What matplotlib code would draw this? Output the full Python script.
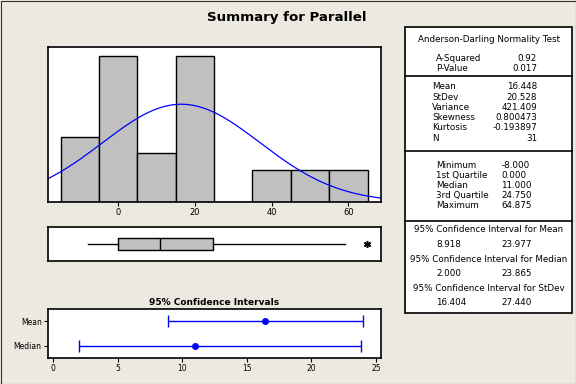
import numpy as np
import matplotlib
matplotlib.use("Agg")
import matplotlib.pyplot as plt
from matplotlib.patches import Rectangle
from matplotlib.lines import Line2D

# histogram (bin centers / counts)
bin_centers = [-10, 0, 10, 20, 30, 40, 50, 60]
bin_counts = [4, 9, 3, 9, 0, 2, 2, 2]
bin_width = 10

# summary stats
n_obs = 31
mean_val = 16.448
sd_val = 20.528
min_val = -8.0
q1_val = 0.0
median_val = 11.0
q3_val = 24.75
max_val = 64.875
whisker_hi = 59.0

ci_labels = ["Median", "Mean"]
ci_centers = [median_val, mean_val]
ci_low = [2.000, 8.918]
ci_high = [23.865, 23.977]

table_rows = [
    ("A-Squared", "0.92"), ("P-Value", "0.017"),
    ("Mean", "16.448"), ("StDev", "20.528"), ("Variance", "421.409"),
    ("Skewness", "0.800473"), ("Kurtosis", "-0.193897"), ("N", "31"),
]
quantile_rows = [
    ("Minimum", "-8.000"), ("1st Quartile", "0.000"), ("Median", "11.000"),
    ("3rd Quartile", "24.750"), ("Maximum", "64.875"),
]
ci_rows = [
    ("95% Confidence Interval for Mean", "8.918", "23.977"),
    ("95% Confidence Interval for Median", "2.000", "23.865"),
    ("95% Confidence Interval for StDev", "16.404", "27.440"),
]

W, H = 576, 384
bg = "#ECE9E0"
plt.rcParams['font.family'] = ['DejaVu Sans']

fig = plt.figure(figsize=(W / 100, H / 100), dpi=100, facecolor=bg)


def rect(x0, y0, x1, y1):
    # pixel box -> figure fraction [left, bottom, width, height]
    return [x0 / W, 1 - y1 / H, (x1 - x0) / W, (y1 - y0) / H]


def px(x, y):
    return x / W, 1 - y / H


# figure border
fig.patches.append(Rectangle((0.5 / W, 0.5 / H), 1 - 1 / W, 1 - 1 / H,
                             transform=fig.transFigure, fill=False,
                             edgecolor="#333333", lw=0.8))

fig.text(*px(287, 17), "Summary for Parallel", ha="center", va="center",
         fontsize=9.6, fontweight="bold")

xlim_main = (-18.3, 68.5)

# histogram
ax = fig.add_axes(rect(48, 47, 381, 202))
ax.bar(bin_centers, bin_counts, width=bin_width, color="#C0C0C0",
       edgecolor="black", linewidth=1)
xs = np.linspace(xlim_main[0], xlim_main[1], 300)
ys = n_obs * bin_width * np.exp(-0.5 * ((xs - mean_val) / sd_val) ** 2) / (sd_val * np.sqrt(2 * np.pi))
ax.plot(xs, ys, color="#0000FF", lw=0.9)
ax.set_xlim(*xlim_main)
ax.set_ylim(0, 9.55)
ax.set_yticks([])
ax.set_xticks([0, 20, 40, 60])
ax.tick_params(axis="x", labelsize=6, length=3, pad=1.5)
for s in ax.spines.values():
    s.set_linewidth(1.2)

# boxplot
axb = fig.add_axes(rect(48, 227, 381, 261))
axb.bxp([{"med": median_val, "q1": q1_val, "q3": q3_val, "whislo": min_val,
          "whishi": whisker_hi, "fliers": [max_val]}],
        vert=False, widths=0.34, patch_artist=True, showcaps=False,
        boxprops=dict(facecolor="#C0C0C0", edgecolor="black", lw=1),
        medianprops=dict(color="black", lw=1),
        whiskerprops=dict(color="black", lw=1),
        flierprops=dict(marker=(6, 2, 0), markersize=5, markeredgecolor="black",
                        markeredgewidth=1.1))
axb.set_xlim(*xlim_main)
axb.set_ylim(0.5, 1.5)
axb.set_xticks([])
axb.set_yticks([])
for s in axb.spines.values():
    s.set_linewidth(1.2)

# confidence intervals
axc = fig.add_axes(rect(48, 309, 381, 358))
ypos = np.arange(1, len(ci_labels) + 1)
err = [np.array(ci_centers) - np.array(ci_low), np.array(ci_high) - np.array(ci_centers)]
axc.errorbar(ci_centers, ypos, xerr=err, fmt="o", color="#0000FF", ms=4,
             capsize=4, elinewidth=1, capthick=1)
axc.set_xlim(-0.4, 25.4)
axc.set_ylim(0.5, 2.5)
axc.set_yticks(ypos)
axc.set_yticklabels(ci_labels)
axc.set_xticks([0, 5, 10, 15, 20, 25])
axc.tick_params(labelsize=5.5, length=3, pad=1.5)
axc.set_title("95% Confidence Intervals", fontsize=6.5, fontweight="bold", pad=3)
for s in axc.spines.values():
    s.set_linewidth(1.2)

# stats table
tx0, tx1 = 405, 572
fig.patches.append(Rectangle(px(tx0, 313), (tx1 - tx0) / W, (313 - 27) / H,
                             transform=fig.transFigure, facecolor="white",
                             edgecolor="black", lw=1.2))
for yl in [76, 151, 221]:
    fig.lines.append(Line2D([tx0 / W, tx1 / W], [1 - yl / H] * 2,
                            transform=fig.transFigure, color="black", lw=1.2))

fs = 6.3
cx = (tx0 + tx1) / 2
fig.text(*px(cx, 40), "Anderson-Darling Normality Test", ha="center", va="center", fontsize=fs)
row_y = [58.3, 68.5, 86.7, 97.2, 107.4, 117.7, 128, 138.3]
for (lab, val), y in zip(table_rows, row_y):
    lx = 436 if y < 76 else 432
    fig.text(*px(lx, y), lab, ha="left", va="center", fontsize=fs)
    fig.text(*px(537, y), val, ha="right", va="center", fontsize=fs)

q_y = [165, 175.3, 185.4, 195.7, 205.8]
for (lab, val), y in zip(quantile_rows, q_y):
    fig.text(*px(436.5, y), lab, ha="left", va="center", fontsize=fs)
    fig.text(*px(501.5, y), val, ha="left", va="center", fontsize=fs)

ci_y = [(229.3, 244.3), (259, 273.5), (288.3, 302.7)]
for (lab, lo, hi), (yt, yv) in zip(ci_rows, ci_y):
    fig.text(*px(cx, yt), lab, ha="center", va="center", fontsize=fs)
    fig.text(*px(436, yv), lo, ha="left", va="center", fontsize=fs)
    fig.text(*px(501.5, yv), hi, ha="left", va="center", fontsize=fs)

fig.savefig("out.png", dpi=100, facecolor=bg)
